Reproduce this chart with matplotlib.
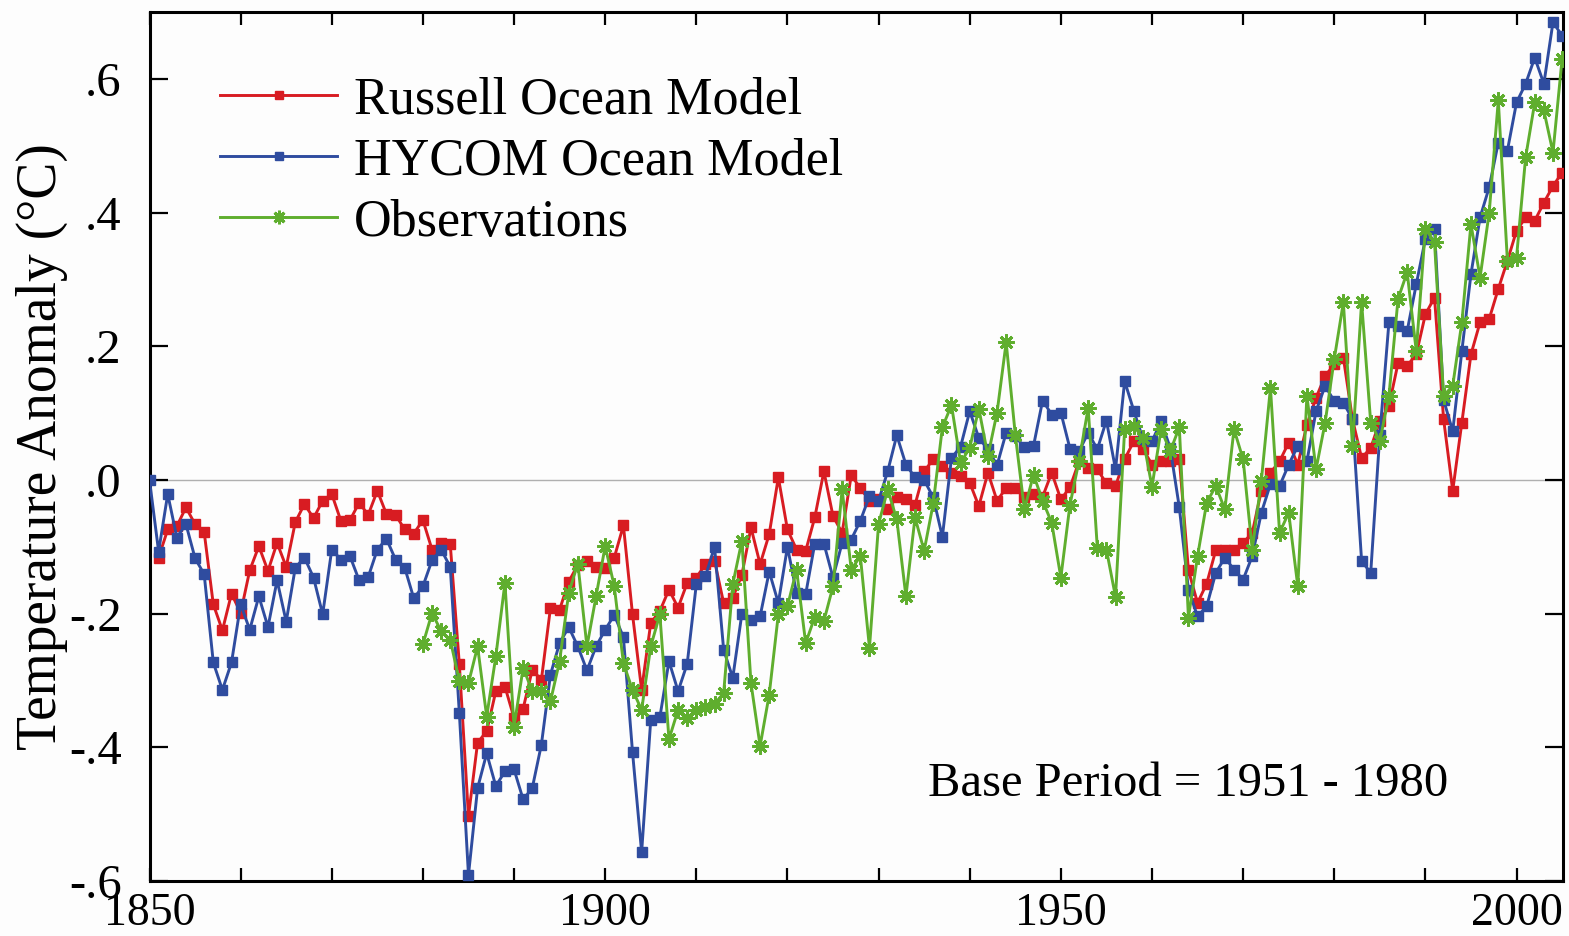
import numpy as np
import matplotlib
matplotlib.use("Agg")
import matplotlib.pyplot as plt
from matplotlib.ticker import FixedLocator, FixedFormatter

# ---------------- data ----------------
russell_start = 1851
russell = [
    -0.116, -0.074, -0.069, -0.041, -0.066, -0.078, -0.186, -0.225, -0.170,  # 1851-1859
    -0.199, -0.135, -0.099, -0.136, -0.094, -0.130, -0.063, -0.036, -0.057, -0.031,  # 1860s
    -0.021, -0.061, -0.060, -0.034, -0.052, -0.016, -0.051, -0.052, -0.074, -0.080,  # 1870s
    -0.060, -0.104, -0.094, -0.096, -0.276, -0.503, -0.393, -0.376, -0.316, -0.309,  # 1880s
    -0.356, -0.342, -0.284, -0.299, -0.191, -0.194, -0.152, -0.127, -0.121, -0.130,  # 1890s
    -0.131, -0.116, -0.068, -0.201, -0.314, -0.214, -0.196, -0.164, -0.191, -0.154,  # 1900s
    -0.146, -0.126, -0.121, -0.184, -0.176, -0.142, -0.071, -0.126, -0.081, 0.004,   # 1910s
    -0.074, -0.104, -0.106, -0.056, 0.013, -0.054, -0.079, 0.007, -0.012, -0.031,    # 1920s
    -0.029, -0.044, -0.026, -0.029, -0.037, 0.013, 0.031, 0.021, 0.011, 0.006,       # 1930s
    -0.004, -0.039, 0.011, -0.031, -0.012, -0.012, -0.026, -0.021, -0.025, 0.011,    # 1940s
    -0.029, -0.011, 0.028, 0.018, 0.016, -0.005, -0.009, 0.031, 0.058, 0.047,        # 1950s
    0.023, 0.028, 0.028, 0.032, -0.135, -0.184, -0.155, -0.105, -0.104, -0.104,      # 1960s
    -0.094, -0.079, -0.016, 0.011, 0.028, 0.056, 0.023, 0.083, 0.123, 0.156,         # 1970s
    0.173, 0.183, 0.091, 0.033, 0.048, 0.088, 0.111, 0.175, 0.171, 0.188,            # 1980s
    0.248, 0.273, 0.091, -0.016, 0.086, 0.188, 0.236, 0.241, 0.286, 0.328,           # 1990s
    0.373, 0.393, 0.388, 0.415, 0.440, 0.460,                                         # 2000-2005
]

hycom_start = 1850
hycom = [
    0.000, -0.107, -0.021, -0.086, -0.066, -0.117, -0.141, -0.273, -0.314, -0.273,   # 1850s
    -0.186, -0.224, -0.174, -0.220, -0.150, -0.212, -0.131, -0.116, -0.146, -0.201,  # 1860s
    -0.104, -0.119, -0.114, -0.150, -0.145, -0.104, -0.088, -0.119, -0.131, -0.177,  # 1870s
    -0.159, -0.120, -0.104, -0.130, -0.349, -0.591, -0.461, -0.409, -0.458, -0.436,  # 1880s
    -0.433, -0.478, -0.461, -0.396, -0.291, -0.244, -0.220, -0.249, -0.285, -0.249,  # 1890s
    -0.224, -0.202, -0.235, -0.407, -0.557, -0.359, -0.355, -0.271, -0.316, -0.275,  # 1900s
    -0.156, -0.144, -0.100, -0.254, -0.296, -0.200, -0.209, -0.204, -0.137, -0.184,  # 1910s
    -0.100, -0.169, -0.171, -0.095, -0.095, -0.146, -0.094, -0.089, -0.061, -0.024,  # 1920s
    -0.031, 0.013, 0.067, 0.023, 0.004, 0.000, -0.026, -0.085, 0.033, 0.050,         # 1930s
    0.103, 0.063, 0.046, 0.022, 0.071, 0.066, 0.049, 0.051, 0.119, 0.098,            # 1940s
    0.101, 0.047, 0.043, 0.071, 0.046, 0.089, 0.016, 0.148, 0.104, 0.062,            # 1950s
    0.058, 0.088, 0.048, -0.041, -0.164, -0.204, -0.189, -0.139, -0.116, -0.134,     # 1960s
    -0.149, -0.114, -0.049, -0.006, -0.009, 0.023, 0.051, 0.028, 0.103, 0.141,       # 1970s
    0.118, 0.116, 0.091, -0.121, -0.139, 0.068, 0.236, 0.231, 0.223, 0.293,          # 1980s
    0.361, 0.376, 0.120, 0.073, 0.193, 0.308, 0.393, 0.438, 0.505, 0.493,            # 1990s
    0.565, 0.593, 0.632, 0.593, 0.685, 0.665,                                         # 2000-2005
]

obs_start = 1880
observations = [
    -0.246, -0.199, -0.226, -0.239, -0.301, -0.304, -0.249, -0.354, -0.264, -0.154,  # 1880s
    -0.369, -0.281, -0.316, -0.316, -0.331, -0.271, -0.169, -0.125, -0.249, -0.174,  # 1890s
    -0.099, -0.159, -0.274, -0.314, -0.344, -0.249, -0.201, -0.388, -0.344, -0.356,  # 1900s
    -0.344, -0.340, -0.335, -0.319, -0.156, -0.091, -0.304, -0.398, -0.321, -0.201,  # 1910s
    -0.189, -0.134, -0.244, -0.205, -0.211, -0.159, -0.014, -0.134, -0.114, -0.251,  # 1920s
    -0.066, -0.014, -0.059, -0.174, -0.056, -0.106, -0.035, 0.079, 0.112, 0.026,     # 1930s
    0.048, 0.107, 0.036, 0.101, 0.206, 0.068, -0.044, 0.008, -0.031, -0.064,         # 1940s
    -0.146, -0.037, 0.029, 0.108, -0.101, -0.104, -0.175, 0.076, 0.081, 0.063,       # 1950s
    -0.010, 0.076, 0.043, 0.079, -0.206, -0.114, -0.034, -0.009, -0.044, 0.076,      # 1960s
    0.031, -0.104, -0.001, 0.138, -0.079, -0.049, -0.159, 0.126, 0.016, 0.086,       # 1970s
    0.181, 0.266, 0.051, 0.266, 0.086, 0.058, 0.126, 0.271, 0.311, 0.193,            # 1980s
    0.376, 0.356, 0.126, 0.141, 0.236, 0.383, 0.303, 0.400, 0.568, 0.328,            # 1990s
    0.333, 0.483, 0.565, 0.553, 0.490, 0.630,                                         # 2000-2005
]

series_labels = ["Russell Ocean Model", "HYCOM Ocean Model", "Observations"]
y_ticks = [-0.6, -0.4, -0.2, 0.0, 0.2, 0.4, 0.6]
y_tick_labels = ["-.6", "-.4", "-.2", ".0", ".2", ".4", ".6"]
x_major = [1850, 1900, 1950, 2000]
x_minor = list(range(1850, 2010, 10))
ylabel = "Temperature Anomaly (°C)"
note = "Base Period = 1951 - 1980"

# ---------------- styling ----------------
RED = "#d81c22"
BLUE = "#2f4c9f"
GREEN = "#5fae2e"
SERIF = ["Liberation Serif", "DejaVu Serif"]

plt.rcParams["font.family"] = SERIF

fig = plt.figure(figsize=(15.69, 9.36), dpi=100)
fig.patch.set_facecolor("#fdfdfd")
ax = fig.add_axes([149.5 / 1569, 1 - 881 / 936, (1563 - 149.5) / 1569, (881 - 12.25) / 936])
ax.set_facecolor("#fdfdfd")

yr_r = np.arange(russell_start, russell_start + len(russell))
yr_h = np.arange(hycom_start, hycom_start + len(hycom))
yr_o = np.arange(obs_start, obs_start + len(observations))

ax.axhline(0, color="#b0b0b0", lw=1.0, zorder=1)

ax.plot(yr_r, russell, color=RED, lw=2.1, marker="s", ms=7.4, mec=RED, mfc=RED,
        label=series_labels[0], zorder=3)
ax.plot(yr_h, hycom, color=BLUE, lw=2.1, marker="s", ms=7.4, mec=BLUE, mfc=BLUE,
        label=series_labels[1], zorder=4)
ax.plot(yr_o, observations, color=GREEN, lw=2.1, marker=(8, 2, 0), ms=11.5, mew=2.1,
        mec=GREEN, mfc=GREEN, label=series_labels[2], zorder=5)

ax.set_xlim(1850, 2005.1)
ax.set_ylim(-0.6, 0.7)

ax.xaxis.set_major_locator(FixedLocator(x_minor))
ax.xaxis.set_major_formatter(FixedFormatter(
    [str(v) if v in x_major else "" for v in x_minor]))
ax.yaxis.set_major_locator(FixedLocator(y_ticks))
ax.yaxis.set_major_formatter(FixedFormatter(y_tick_labels))

ax.tick_params(axis="x", direction="in", length=9.5, width=1.6, top=True,
               labelsize=33, pad=8.5, colors="black")
ax.tick_params(axis="y", direction="in", length=13, width=1.6, right=True,
               labelsize=35, pad=20, colors="black")
for s in ax.spines.values():
    s.set_linewidth(2.2)
    s.set_color("black")

ax.set_ylabel(ylabel, fontsize=40)
ax.yaxis.set_label_coords(-0.058, 0.5)

ax.text(1935.4, -0.473, note, fontsize=35, va="baseline", ha="left")

leg = ax.legend(loc="upper left", bbox_to_anchor=(0.050, 0.926), frameon=False,
                fontsize=37.5, handlelength=2.25, handletextpad=0.32,
                labelspacing=0.25, borderpad=0, borderaxespad=0, markerscale=0.85)

fig.savefig("out.png", dpi=100, facecolor=fig.get_facecolor())
